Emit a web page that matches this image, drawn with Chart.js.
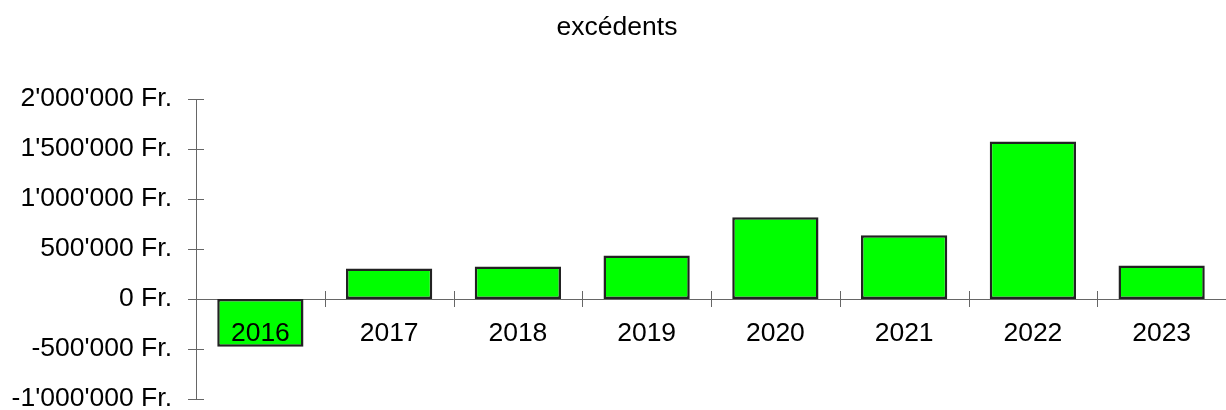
<!DOCTYPE html>
<html>
<head>
<meta charset="utf-8">
<script src="https://cdn.jsdelivr.net/npm/chart.js@4"></script>
<style>
  html, body { margin: 0; padding: 0; background: #fff; }
  #wrap { width: 1226px; height: 410px; position: relative; }
</style>
</head>
<body>
<div id="wrap"><canvas id="c"></canvas></div>
<script>
const titleText = 'excédents';
const years = ['2016', '2017', '2018', '2019', '2020', '2021', '2022', '2023'];
const surplus = [-478000, 305000, 325000, 435000, 818000, 638000, 1575000, 335000];
const yMin = -1000000;
const yMax = 2000000;
const yStep = 500000;

const FONT = '"Liberation Sans", Arial, sans-serif';
const FSIZE = 26.5;
const AXIS_COLOR = '#666666';

function fmtFr(v) {
  const neg = v < 0;
  const s = Math.round(Math.abs(v)).toString().replace(/\B(?=(\d{3})+(?!\d))/g, "'");
  return (neg ? '-' : '') + s + ' Fr.';
}

const crossTicks = {
  id: 'crossTicks',
  beforeDatasetsDraw(chart) {
    const ctx = chart.ctx;
    const x = chart.scales.x, y = chart.scales.y;
    const y0 = y.getPixelForValue(0);
    const n = years.length;
    ctx.save();
    ctx.strokeStyle = AXIS_COLOR;
    ctx.lineWidth = 1;
    ctx.beginPath();
    for (let i = 0; i <= n; i++) {
      const px = Math.round(x.left + i * (x.width / n)) + 0.5;
      ctx.moveTo(px, y0 - 8);
      ctx.lineTo(px, y0 + 8);
    }
    y.ticks.forEach(t => {
      const py = Math.round(y.getPixelForValue(t.value)) + 0.5;
      ctx.moveTo(x.left - 8, py);
      ctx.lineTo(x.left + 8, py);
    });
    ctx.stroke();
    ctx.restore();
  }
};

new Chart(document.getElementById('c'), {
  type: 'bar',
  data: {
    labels: years,
    datasets: [{
      data: surplus,
      backgroundColor: '#00ff00',
      borderColor: '#222222',
      borderWidth: 2.5,
      borderSkipped: false,
      barPercentage: 0.67,
      categoryPercentage: 1.0
    }]
  },
  options: {
    responsive: true,
    maintainAspectRatio: false,
    animation: false,
    devicePixelRatio: 1,
    layout: { padding: { left: 8, right: 0, top: 0, bottom: 11 } },
    plugins: {
      legend: { display: false },
      tooltip: { enabled: false },
      title: {
        display: true,
        text: titleText,
        color: '#000',
        font: { family: FONT, size: FSIZE, weight: 'normal' },
        padding: { top: 12, bottom: 55.2 }
      }
    },
    scales: {
      x: {
        position: { y: 0 },
        offset: true,
        grid: { display: false, drawTicks: false },
        border: { display: true, color: AXIS_COLOR, width: 1 },
        ticks: {
          z: 1,
          color: '#000',
          font: { family: FONT, size: FSIZE },
          padding: 19,
          maxRotation: 0,
          autoSkip: false
        },
        afterFit(s) { s.paddingLeft = 0; s.paddingRight = 0; }
      },
      y: {
        min: yMin,
        max: yMax,
        grid: { display: false, drawTicks: false },
        border: { display: true, color: AXIS_COLOR, width: 1 },
        ticks: {
          stepSize: yStep,
          color: '#000',
          font: { family: FONT, size: FSIZE },
          padding: 24,
          callback: (v) => fmtFr(v)
        },
        afterFit(s) { s.width = 188; s.paddingTop = 0; s.paddingBottom = 0; }
      }
    }
  },
  plugins: [crossTicks]
});
</script>
</body>
</html>
